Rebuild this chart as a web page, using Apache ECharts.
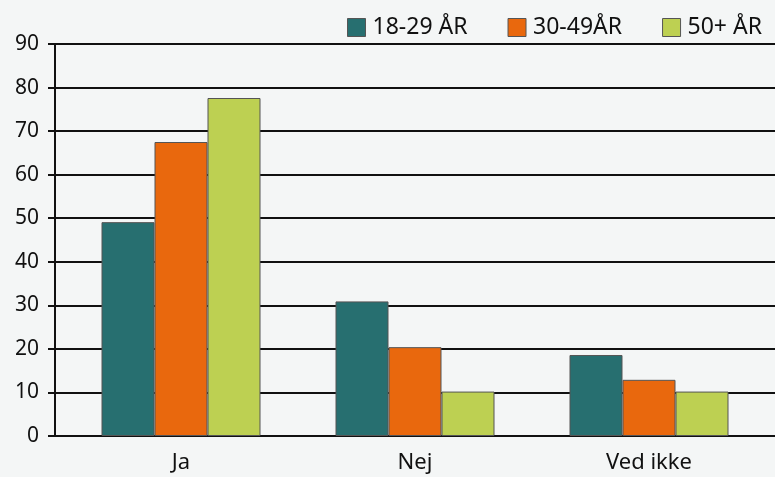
<!DOCTYPE html>
<html><head><meta charset="utf-8">
<script src="https://cdn.jsdelivr.net/npm/echarts@6/dist/echarts.min.js"></script>
<style>html,body{margin:0;padding:0;background:#f4f6f6;}#c{width:775px;height:477px;}</style>
</head><body><div id="c"></div>
<script>
const categories = ['Ja', 'Nej', 'Ved ikke'];
const seriesNames = ['18-29 ÅR', '30-49ÅR', '50+ ÅR'];
const v1829 = [49.1, 30.9, 18.6];
const v3049 = [67.5, 20.4, 12.9];
const v50 = [77.6, 10.2, 10.2];
const yTicks = [0, 10, 20, 30, 40, 50, 60, 70, 80, 90];
const colors = ['#276f70', '#e9680d', '#bdd052'];

const chart = echarts.init(document.getElementById('c'));
const TOP = 44, BOTTOM = 41;
const yMin = yTicks[0], yMax = yTicks[yTicks.length - 1], yInt = yTicks[1] - yTicks[0];
chart.setOption({
  backgroundColor: '#f4f6f6',
  animation: false,
  legend: {
    data: seriesNames,
    right: 8, top: 11,
    itemWidth: 18, itemHeight: 18, itemGap: 40,
    icon: 'rect',
    itemStyle: { borderColor: '#555', borderWidth: 1 },
    textStyle: { fontFamily: 'Noto Sans', fontSize: 23, color: '#111', padding: [0, 0, 0, 2] }
  },
  grid: [
    { left: 55, right: 0, top: TOP, bottom: BOTTOM },
    { left: 64, right: 9, top: TOP, bottom: BOTTOM }
  ],
  xAxis: [
    { type: 'category', gridIndex: 0, data: categories,
      axisLine: { show: true, lineStyle: { color: '#111', width: 2 } },
      axisTick: { show: false }, axisLabel: { show: false }, splitLine: { show: false } },
    { type: 'category', gridIndex: 1, data: categories,
      axisLine: { show: false }, axisTick: { show: false },
      axisLabel: { show: true, margin: 16, fontFamily: 'Liberation Sans Narrow, Noto Sans', fontSize: 22, color: '#111' } }
  ],
  yAxis: [
    { type: 'value', gridIndex: 0, min: yMin, max: yMax, interval: yInt,
      axisLine: { show: true, lineStyle: { color: '#111', width: 2 } },
      axisTick: { show: true, length: 7, lineStyle: { color: '#111', width: 2 } },
      axisLabel: { margin: 16, fontFamily: 'Noto Sans', fontSize: 21, color: '#111' },
      splitLine: { show: true, lineStyle: { color: '#111', width: 2 } } },
    { type: 'value', gridIndex: 1, min: yMin, max: yMax, interval: yInt, show: false }
  ],
  series: [v1829, v3049, v50].map((d, i) => ({
    name: seriesNames[i], type: 'bar', xAxisIndex: 1, yAxisIndex: 1, data: d,
    barWidth: 53, barGap: '0%',
    itemStyle: { color: colors[i], borderColor: '#555', borderWidth: 1 }
  }))
});
</script></body></html>
